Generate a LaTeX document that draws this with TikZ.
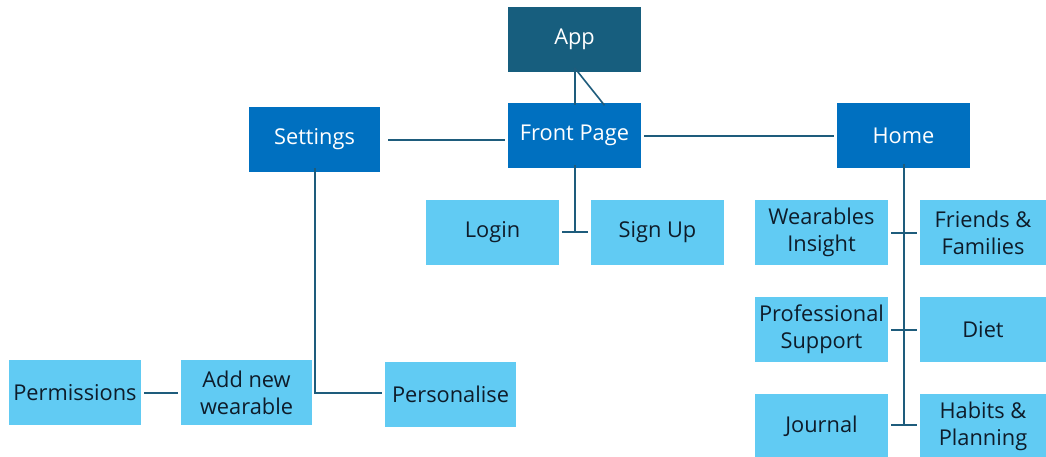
\documentclass[tikz,border=0pt]{standalone}
\usepackage{fontspec}
\setmainfont{Open Sans}
\definecolor{appteal}{HTML}{175E7E}
\definecolor{mainblue}{HTML}{0070C0}
\definecolor{leafblue}{HTML}{61CBF3}
\definecolor{linkcol}{HTML}{1E5C7C}
\definecolor{inkdark}{HTML}{0E1C2A}
\tikzset{
  box/.style={rectangle, inner sep=0pt, minimum width=133pt, minimum height=65pt,
    align=center, font=\fontsize{21.8}{27}\selectfont},
  topbox/.style={box, fill=appteal, text=white},
  mainbox/.style={box, fill=mainblue, text=white},
  leafbox/.style={box, fill=leafblue, text=inkdark},
  link/.style={draw=linkcol, line width=2pt},
}
\begin{document}
\begin{tikzpicture}[x=1pt, y=-1pt]
  \useasboundingbox (0,0) rectangle (1046,456);
  \clip (0,0) rectangle (1046,456);

  % top levels
  \node[topbox]  (app)      at (574.5, 39)    {\raisebox{-1.5pt}{App}};
  \node[mainbox] (front)    at (574.5, 135)   {\raisebox{-1.5pt}{Front Page}};
  \node[mainbox, minimum width=131pt] (settings) at (314.5, 139.5) {\raisebox{-1.5pt}{Settings}};
  \node[mainbox] (home)     at (903.5, 135.5) {\raisebox{-1.5pt}{Home}};

  % front page children
  \node[leafbox] (login)  at (492.5, 232.5) {Login};
  \node[leafbox] (signup) at (657.5, 232.5) {Sign Up};

  % home children
  \node[leafbox] (wear)    at (821.5, 232.5) {Wearables\\Insight};
  \node[leafbox] (friends) at (986.5, 232.5) {\hspace*{-7pt}Friends \&\\\hspace*{-7pt}Families};
  \node[leafbox] (prof)    at (821.5, 329.5) {Professional\\Support};
  \node[leafbox] (diet)    at (986.5, 329.5) {\hspace*{-7pt}Diet};
  \node[leafbox] (journal) at (821.5, 426.5) {Journal};
  \node[leafbox] (habits)  at (986.5, 426.5) {\hspace*{-7pt}Habits \&\\\hspace*{-7pt}Planning};

  % settings children
  \node[leafbox, minimum width=132pt] (perm)     at (75, 392.5)  {Permissions};
  \node[leafbox, minimum width=131pt] (addnew)   at (246.5, 392.5) {Add new\\wearable};
  \node[leafbox, minimum width=131pt] (personal) at (450.5, 394)  {Personalise};

  % junction points
  \coordinate (fpfoot) at (574.5, 232);
  \coordinate (hmfoot) at (903.5, 425);
  \coordinate (stfoot) at (315, 393);

  % App <- Front Page
  \draw[link] ([yshift=4pt]app.south) -- ([yshift=-3pt]front.north);
  \draw[link, line width=1.6pt] ([yshift=4pt]app.south) -- ([xshift=30pt,yshift=-3pt]front.north);

  % Front Page to Settings and Home
  \draw[link] ([xshift=-3pt]front.west |- 0,140) -- ([xshift=8pt]settings.east |- 0,140);
  \draw[link] ([xshift=3pt]front.east |- 0,136) -- ([xshift=-3pt]home.west |- 0,136);

  % Front Page to Login / Sign Up
  \draw[link] ([yshift=3pt]front.south) -- (fpfoot);
  \draw[link] ([xshift=3pt]login.east |- fpfoot) -- ([xshift=-3pt]signup.west |- fpfoot);

  % Home branch
  \draw[link] ([yshift=4pt]home.south) -- (hmfoot);
  \draw[link] ([xshift=3pt]wear.east) -- ([xshift=-3pt]friends.west);
  \draw[link] ([xshift=3pt]prof.east) -- ([xshift=-3pt]diet.west);
  \draw[link] ([xshift=3pt]journal.east |- hmfoot) -- ([xshift=-3pt]habits.west |- hmfoot);

  % Settings branch
  \draw[link] ([yshift=4pt]settings.south -| stfoot) -- (stfoot) -- ([xshift=-3pt]personal.west |- stfoot);
  \draw[link] ([xshift=3pt]perm.east) -- ([xshift=-3pt]addnew.west);
\end{tikzpicture}
\end{document}
